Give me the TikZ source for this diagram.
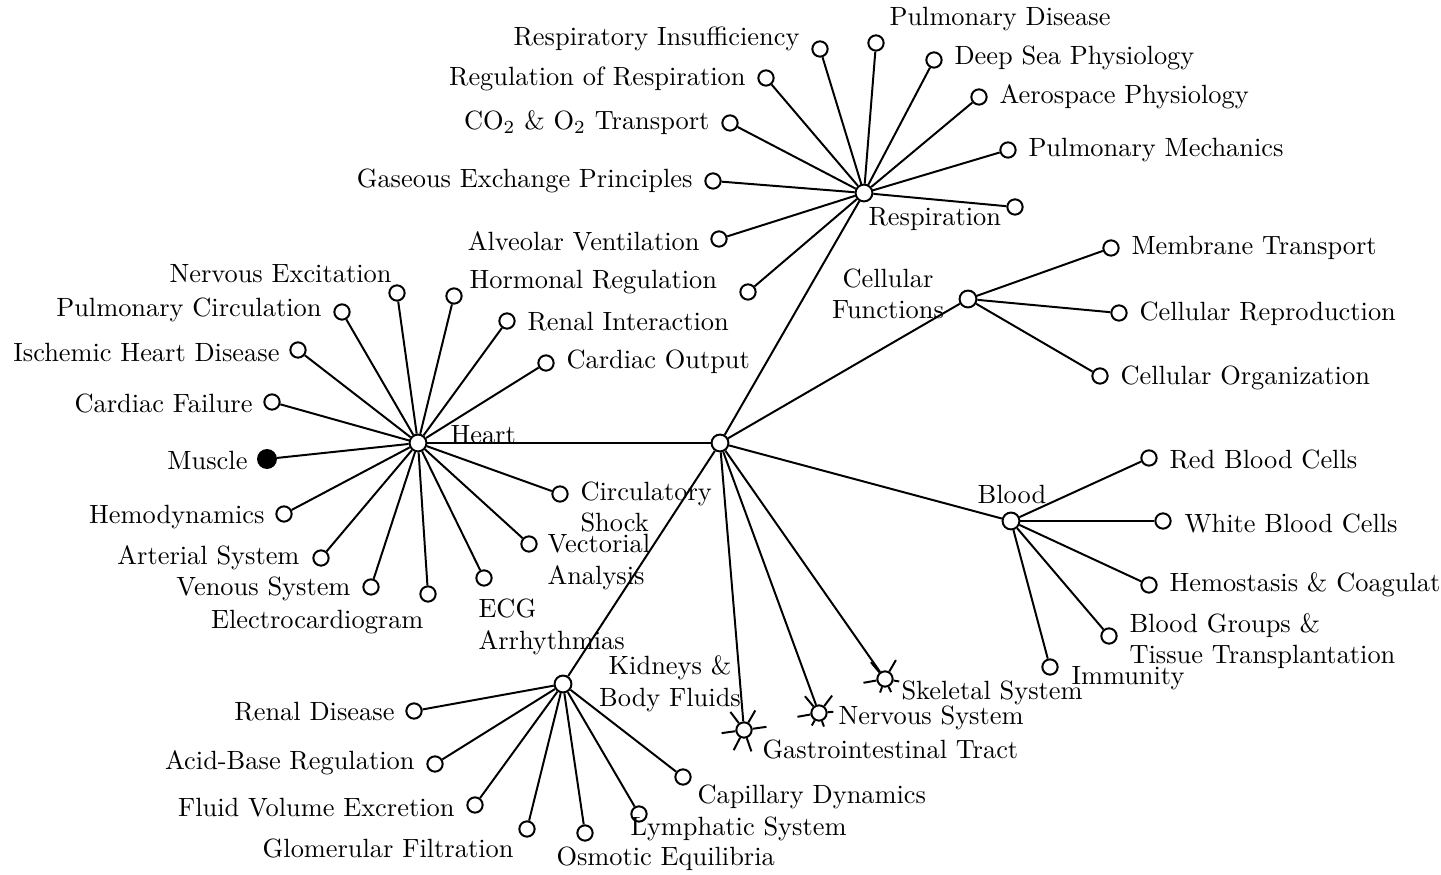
\documentclass[tikz,border=0pt]{standalone}
\usepackage{amsmath}
\usepackage{tikz}
\usetikzlibrary{positioning}
\begin{document}
\begin{tikzpicture}[
  x=0.379pt, y=-0.379pt,
  dot/.style={circle, draw, fill=white, line width=0.75pt, inner sep=0pt, minimum size=5.8pt},
  hub/.style={dot, minimum size=6.4pt},
  full/.style={dot, fill=black, minimum size=6.8pt},
  txt/.style={inner sep=0pt, font=\normalsize},
  edge/.style={line width=0.75pt},
]
\clip (0,0) rectangle (1441,875);
\fill[white] (0,0) rectangle (1441,875);

% hubs
\node[hub] (core) at (720,443) {};
\node[hub] (heart) at (418,443) {};
\node[hub] (resp) at (864,193) {};
\node[hub] (cell) at (968,299) {};
\node[hub] (blood) at (1011,521) {};
\node[hub] (kid) at (563,684) {};
\node[dot] (gi) at (744,730) {};
\node[dot] (nerv) at (819,713) {};
\node[dot] (skel) at (885,679) {};

\node[txt, anchor=west] (lheart) at (450,435) {Heart};
\node[txt, anchor=west] (lresp) at (868,219) {Respiration};
\node[txt, align=center] (lcell) at (888,294) {Cellular\\Functions};
\node[txt] (lblood) at (1012,494) {Blood};
\node[txt, align=center] (lkid) at (670,684) {Kidneys \&\\Body Fluids};
\node[txt, anchor=west] (lgi) at (762,749) {Gastrointestinal Tract};
\node[txt, anchor=west] (lnerv) at (838,718) {Nervous System};
\node[txt, anchor=west] (lskel) at (901,693) {Skeletal System};

% heart
\node[full] (h1) at (267,459) {};
\node[dot] (h2) at (272,402) {};
\node[dot] (h3) at (298,350) {};
\node[dot] (h4) at (342,312) {};
\node[dot] (h5) at (397,293) {};
\node[dot] (h6) at (454,296) {};
\node[dot] (h7) at (507,321) {};
\node[dot] (h8) at (546,363) {};
\node[dot] (h9) at (560,494) {};
\node[dot] (h10) at (529,544) {};
\node[dot] (h11) at (484,578) {};
\node[dot] (h12) at (428,594) {};
\node[dot] (h13) at (371,587) {};
\node[dot] (h14) at (321,558) {};
\node[dot] (h15) at (284,514) {};
\node[txt, anchor=east] (th1) at (248,460) {Muscle};
\node[txt, anchor=east] (th2) at (253,403) {Cardiac Failure};
\node[txt, anchor=east] (th3) at (280,352) {Ischemic Heart Disease};
\node[txt, anchor=east] (th4) at (322,310) {Pulmonary Circulation};
\node[txt, anchor=east] (th5) at (392,274) {Nervous Excitation};
\node[txt, anchor=west] (th6) at (469,282) {Hormonal Regulation};
\node[txt, anchor=west] (th7) at (527,322) {Renal Interaction};
\node[txt, anchor=west] (th8) at (566,362) {Cardiac Output};
\node[txt, anchor=west, align=left] (th9) at (580,507) {Circulatory\\Shock};
\node[txt, anchor=west, align=left] (th10) at (547,562) {Vectorial\\Analysis};
\node[txt, anchor=west, align=left] (th11) at (478,627) {ECG\\Arrhythmias};
\node[txt, anchor=east] (th12) at (424,622) {Electrocardiogram};
\node[txt, anchor=east] (th13) at (351,589) {Venous System};
\node[txt, anchor=east] (th14) at (300,558) {Arterial System};
\node[txt, anchor=east] (th15) at (265,517) {Hemodynamics};

% respiration
\node[dot] (r1) at (713,181) {};
\node[dot] (r2) at (730,123) {};
\node[dot] (r3) at (766,78) {};
\node[dot] (r4) at (820,49) {};
\node[dot] (r5) at (876,43) {};
\node[dot] (r6) at (934,60) {};
\node[dot] (r7) at (979,97) {};
\node[dot] (r8) at (1008,150) {};
\node[dot] (r9) at (1015,207) {};
\node[dot] (r10) at (719,239) {};
\node[dot] (r11) at (748,292) {};
\node[txt, anchor=east] (tr1) at (693,181) {Gaseous Exchange Principles};
\node[txt, anchor=east] (tr2) at (710,123) {CO$_2$ \& O$_2$ Transport};
\node[txt, anchor=east] (tr3) at (746,79) {Regulation of Respiration};
\node[txt, anchor=east] (tr4) at (800,39) {Respiratory Insufficiency};
\node[txt, anchor=west] (tr5) at (889,19) {Pulmonary Disease};
\node[txt, anchor=west] (tr6) at (954,58) {Deep Sea Physiology};
\node[txt, anchor=west] (tr7) at (999,97) {Aerospace Physiology};
\node[txt, anchor=west] (tr8) at (1028,150) {Pulmonary Mechanics};
\node[txt, anchor=east] (tr10) at (700,241) {Alveolar Ventilation};

% cellular
\node[dot] (c1) at (1111,248) {};
\node[dot] (c2) at (1119,313) {};
\node[dot] (c3) at (1100,376) {};
\node[txt, anchor=west] (tc1) at (1131,248) {Membrane Transport};
\node[txt, anchor=west] (tc2) at (1139,314) {Cellular Reproduction};
\node[txt, anchor=west] (tc3) at (1120,378) {Cellular Organization};

% blood
\node[dot] (b1) at (1149,458) {};
\node[dot] (b2) at (1163,521) {};
\node[dot] (b3) at (1149,585) {};
\node[dot] (b4) at (1109,636) {};
\node[dot] (b5) at (1050,667) {};
\node[txt, anchor=west] (tb1) at (1169,459) {Red Blood Cells};
\node[txt, anchor=west] (tb2) at (1184,523) {White Blood Cells};
\node[txt, anchor=west] (tb3) at (1169,585) {Hemostasis \& Coagulation};
\node[txt, anchor=west, align=left] (tb4) at (1129,641) {Blood Groups \&\\Tissue Transplantation};
\node[txt, anchor=west] (tb5) at (1071,678) {Immunity};

% kidneys
\node[dot] (k1) at (414,711) {};
\node[dot] (k2) at (435,764) {};
\node[dot] (k3) at (475,805) {};
\node[dot] (k4) at (527,829) {};
\node[dot] (k5) at (585,833) {};
\node[dot] (k6) at (639,814) {};
\node[dot] (k7) at (683,777) {};
\node[txt, anchor=east] (tk1) at (395,712) {Renal Disease};
\node[txt, anchor=east] (tk2) at (415,763) {Acid-Base Regulation};
\node[txt, anchor=east] (tk3) at (455,808) {Fluid Volume Excretion};
\node[txt, anchor=east] (tk4) at (514,848) {Glomerular Filtration};
\node[txt, anchor=west] (tk5) at (556,859) {Osmotic Equilibria};
\node[txt, anchor=west] (tk6) at (630,829) {Lymphatic System};
\node[txt, anchor=west] (tk7) at (697,797) {Capillary Dynamics};

\foreach \n in {heart,resp,cell,blood,kid,gi,nerv,skel}
  \draw[edge] (core) -- (\n);
\foreach \n in {h1,h2,h3,h4,h5,h6,h7,h8,h9,h10,h11,h12,h13,h14,h15}
  \draw[edge] (heart) -- (\n);
\foreach \n in {r1,r2,r3,r4,r5,r6,r7,r8,r9,r10,r11}
  \draw[edge] (resp) -- (\n);
\foreach \n in {c1,c2,c3}
  \draw[edge] (cell) -- (\n);
\foreach \n in {b1,b2,b3,b4,b5}
  \draw[edge] (blood) -- (\n);
\foreach \n in {k1,k2,k3,k4,k5,k6,k7}
  \draw[edge] (kid) -- (\n);

\foreach \a/\l in {127/5.3pt,60/5.3pt,8/5.3pt,188/5.3pt,243/5.3pt,289/5.3pt}
  \draw[edge] (gi.\a) -- ++(\a:\l);
\foreach \a/\l in {130/5pt,53/5pt,190/5pt,240/2.2pt,290/2.2pt,5/2.2pt}
  \draw[edge] (nerv.\a) -- ++(\a:\l);
\foreach \a/\l in {130/5pt,60/5pt,190/5pt,250/2.2pt,295/2.2pt,350/2.2pt}
  \draw[edge] (skel.\a) -- ++(\a:\l);
\end{tikzpicture}
\end{document}
